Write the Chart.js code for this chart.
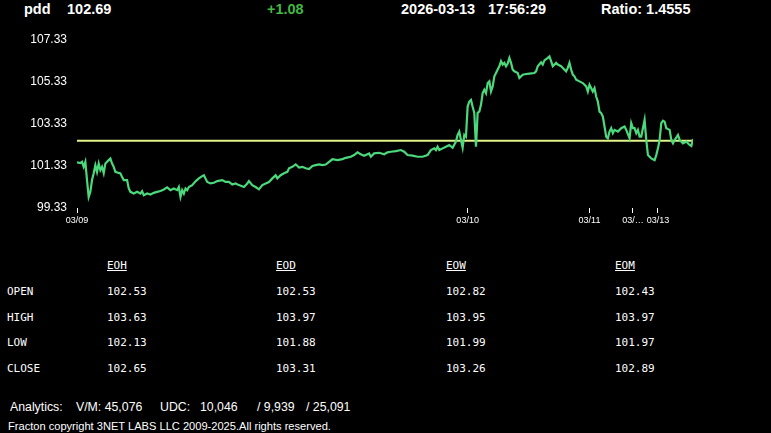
<!DOCTYPE html>
<html>

<head>
  <title>pdd</title>
  <script src="https://cdn.jsdelivr.net/npm/chart.js@4.4.1/dist/chart.umd.min.js"></script>
  <style>
    body {
      margin: 0;
      background: #000;
      width: 771px;
      height: 433px;
      overflow: hidden;
      position: relative;
      font-family: "Liberation Sans", Arial, sans-serif;
      color: #fff;
    }

    .hd {
      position: absolute;
      top: 0;
      line-height: 18px;
      font-size: 14.5px;
      font-weight: bold;
      white-space: pre;
    }

    .tb {
      position: absolute;
      font-family: "DejaVu Sans Mono", monospace;
      font-size: 11px;
      line-height: 14px;
      white-space: pre;
    }

    .ft {
      position: absolute;
      white-space: pre;
      top: 399px;
      font-size: 12.3px;
      line-height: 16px;
    }

    #chartBox {
      position: absolute;
      left: 0;
      top: 0;
    }
  </style>
</head>

<body>
  <div class="hd" style="left:24px">pdd</div>
  <div class="hd" style="left:67px">102.69</div>
  <div class="hd" style="left:267px;color:#44b844">+1.08</div>
  <div class="hd" style="left:401px">2026-03-13</div>
  <div class="hd" style="left:488px">17:56:29</div>
  <div class="hd" style="left:601px">Ratio: 1.4555</div>

  <canvas id="chartBox" width="771" height="240"></canvas>

  <div id="table"></div>

  <div class="ft" style="left:10px">Analytics:</div>
  <div class="ft" style="left:76px">V/M: 45,076</div>
  <div class="ft" style="left:160px">UDC:</div>
  <div class="ft" style="left:200px">10,046</div>
  <div class="ft" style="left:257px">/ 9,939</div>
  <div class="ft" style="left:306px">/ 25,091</div>
  <div class="ft" style="left:8px;top:418px;font-size:11.1px">Fracton copyright 3NET LABS LLC 2009-2025.All rights reserved.</div>

  <script>
    // price trace, sample index -> price
    const priceIdx = [0, 2, 3, 4, 5, 6, 7, 8, 9, 10, 11, 12, 13, 14, 15, 16, 17, 18, 19, 20,
      21, 22, 23, 25, 26, 27, 28, 30, 31, 32, 34, 36, 38, 39, 40, 42, 44, 46, 48, 50,
      52, 54, 56, 58, 60, 61, 62, 63, 64, 65, 66, 67, 69, 71, 73, 75, 76, 78, 80, 82,
      84, 87, 89, 91, 93, 95, 97, 100, 102, 103, 105, 107, 109, 111, 113, 115, 117, 119, 120, 122,
      124, 126, 127, 129, 131, 133, 135, 137, 139, 141, 143, 145, 147, 149, 153, 156, 159, 161, 164, 166,
      168, 170, 172, 175, 176, 178, 181, 184, 186, 188, 191, 194, 196, 198, 201, 204, 207, 210, 212, 214,
      215, 216, 217, 219, 221, 223, 225, 227, 228, 229, 230, 231, 232, 233, 234, 235, 236, 237, 238, 239,
      240, 241, 242, 243, 244, 245, 246, 247, 248, 249, 250, 251, 252, 253, 254, 255, 256, 257, 258, 259,
      260, 261, 262, 264, 265, 267, 269, 271, 274, 275, 276, 278, 279, 280, 282, 283, 284, 285, 287, 288,
      290, 291, 293, 294, 295, 296, 297, 298, 299, 301, 303, 305, 306, 307, 309, 310, 311, 312, 313, 314,
      315, 316, 317, 318, 319, 320, 321, 322, 324, 326, 328, 329, 331, 332, 333, 334, 335, 336, 337, 338,
      339, 340, 341, 342, 343, 344, 346, 347, 348, 349, 350, 351, 352, 353, 355, 356, 357, 358, 360, 361,
      363, 365, 367, 368, 369];
    const priceVals = [101.50, 101.47, 101.53, 101.29, 101.53, 100.66, 99.86, 100.10, 100.66, 100.99,
      101.37, 101.05, 101.45, 101.13, 101.29, 100.99, 101.45, 101.53, 101.61, 101.69,
      101.45, 101.29, 101.05, 101.00, 100.98, 100.81, 100.66, 100.66, 100.26, 100.10,
      100.02, 100.10, 100.02, 100.13, 99.94, 100.02, 99.97, 100.05, 100.10, 100.14,
      100.21, 100.31, 100.18, 100.26, 100.18, 100.33, 99.86, 100.18, 100.02, 100.26,
      100.18, 100.33, 100.42, 100.60, 100.74, 100.85, 100.89, 100.57, 100.50, 100.53,
      100.61, 100.66, 100.57, 100.57, 100.45, 100.50, 100.42, 100.33, 100.50, 100.61,
      100.42, 100.33, 100.22, 100.42, 100.50, 100.57, 100.74, 100.89, 100.74, 100.89,
      100.98, 101.05, 101.22, 101.29, 101.41, 101.26, 101.29, 101.22, 101.18, 101.33,
      101.37, 101.41, 101.37, 101.40, 101.65, 101.61, 101.66, 101.72, 101.77, 101.85,
      101.98, 101.89, 101.82, 101.93, 101.77, 101.93, 101.96, 101.89, 101.98, 102.01,
      102.04, 102.09, 102.01, 101.85, 101.82, 101.77, 101.77, 101.85, 102.09, 102.17,
      102.09, 102.25, 102.09, 102.17, 102.25, 102.33, 102.20, 102.49, 102.81, 102.97,
      102.57, 102.20, 102.81, 102.73, 104.16, 104.40, 104.48, 104.15, 103.85, 102.25,
      103.86, 103.92, 104.24, 104.80, 104.96, 104.80, 105.28, 105.36, 104.88, 105.12,
      105.60, 105.76, 105.92, 106.08, 106.32, 106.16, 106.24, 106.08, 106.21, 106.48,
      106.24, 105.92, 105.84, 105.76, 105.52, 105.68, 105.71, 105.73, 105.76, 105.84,
      106.08, 106.27, 106.16, 106.36, 106.48, 106.55, 106.32, 106.08, 106.24, 106.16,
      106.08, 106.00, 105.84, 106.00, 106.24, 105.92, 105.68, 105.60, 105.44, 105.36,
      105.28, 105.12, 104.88, 105.20, 104.88, 105.04, 104.64, 104.40, 103.92, 103.85,
      103.68, 103.21, 102.73, 102.65, 102.97, 103.13, 102.89, 103.05, 102.97, 103.13,
      103.21, 103.05, 102.65, 103.37, 103.13, 103.13, 102.89, 103.05, 102.73, 102.73,
      103.13, 103.53, 102.57, 101.85, 101.77, 101.69, 101.61, 101.85, 102.17, 102.57,
      103.37, 103.49, 103.44, 103.13, 103.05, 102.57, 102.41, 102.57, 102.81, 102.57,
      102.41, 102.49, 102.33, 102.28, 102.62];

    const refLevel = 102.53;

    // first sample of each day
    const dayStarts = [0, 234, 307, 333, 348];
    const dayLabels = ['03/09', '03/10', '03/11', '03/12', '03/13'];

    const yTicks = [99.33, 101.33, 103.33, 105.33, 107.33];

    // summary table
    const rowNames = ['OPEN', 'HIGH', 'LOW', 'CLOSE'];
    const colNames = ['EOH', 'EOD', 'EOW', 'EOM'];
    const eoh = [102.53, 103.63, 102.13, 102.65];
    const eod = [102.53, 103.97, 101.88, 103.31];
    const eow = [102.82, 103.95, 101.99, 103.26];
    const eom = [102.43, 103.97, 101.97, 102.89];

    const lastIdx = priceIdx[priceIdx.length - 1];

    const ctx = document.getElementById('chartBox').getContext('2d');
    const chart = new Chart(ctx, {
      type: 'line',
      data: {
        datasets: [{
          data: priceIdx.map((x, i) => ({ x: x, y: priceVals[i] })),
          borderColor: '#4cd97b',
          borderWidth: 2.2,
          pointRadius: 0,
          tension: 0,
        }, {
          data: [{ x: 0, y: refLevel }, { x: lastIdx, y: refLevel }],
          borderColor: '#e4f28a',
          borderWidth: 2,
          pointRadius: 0,
        }],
      },
      options: {
        responsive: false,
        devicePixelRatio: 1,
        animation: false,
        layout: { padding: { top: 40, right: 78, left: 0, bottom: 0 } },
        plugins: { legend: { display: false }, tooltip: { enabled: false } },
        scales: {
          x: {
            type: 'linear',
            min: 0,
            max: lastIdx,
            afterFit: s => { s.height = 32; },
            afterBuildTicks: s => { s.ticks = dayStarts.map(v => ({ value: v })); },
            border: { display: false },
            grid: { drawOnChartArea: false, drawTicks: true, tickLength: 5, color: '#fff', lineWidth: 1 },
            ticks: {
              autoSkip: false,
              maxRotation: 0,
              padding: 2,
              color: '#fff',
              font: { family: 'Liberation Sans', size: 9 },
              callback: (v) => {
                const i = dayStarts.indexOf(v);
                const lab = dayLabels[i];
                if (i < dayStarts.length - 1 && dayStarts[i + 1] - v < 20) return lab.slice(0, 3) + '…';
                return lab;
              },
            },
          },
          y: {
            min: yTicks[0],
            max: yTicks[yTicks.length - 1],
            afterFit: s => { s.width = 77; },
            afterBuildTicks: s => { s.ticks = yTicks.map(v => ({ value: v })); },
            border: { display: false },
            grid: { display: false, drawTicks: false },
            ticks: {
              padding: 10,
              color: '#fff',
              font: { family: 'Liberation Sans', size: 12 },
              callback: v => v.toFixed(2),
            },
          },
        },
      },
    });

    // table below the chart
    const colX = [107, 276, 446, 615];
    const rowY = [285, 311, 336, 362];
    const cols = [eoh, eod, eow, eom];
    let html = '';
    colNames.forEach((c, j) => {
      html += `<div class="tb" style="left:${colX[j]}px;top:259px;text-decoration:underline">${c}</div>`;
    });
    rowNames.forEach((r, i) => {
      html += `<div class="tb" style="left:7px;top:${rowY[i]}px">${r}</div>`;
      cols.forEach((col, j) => {
        html += `<div class="tb" style="left:${colX[j]}px;top:${rowY[i]}px">${col[i].toFixed(2)}</div>`;
      });
    });
    document.getElementById('table').innerHTML = html;
  </script>
</body>

</html>
